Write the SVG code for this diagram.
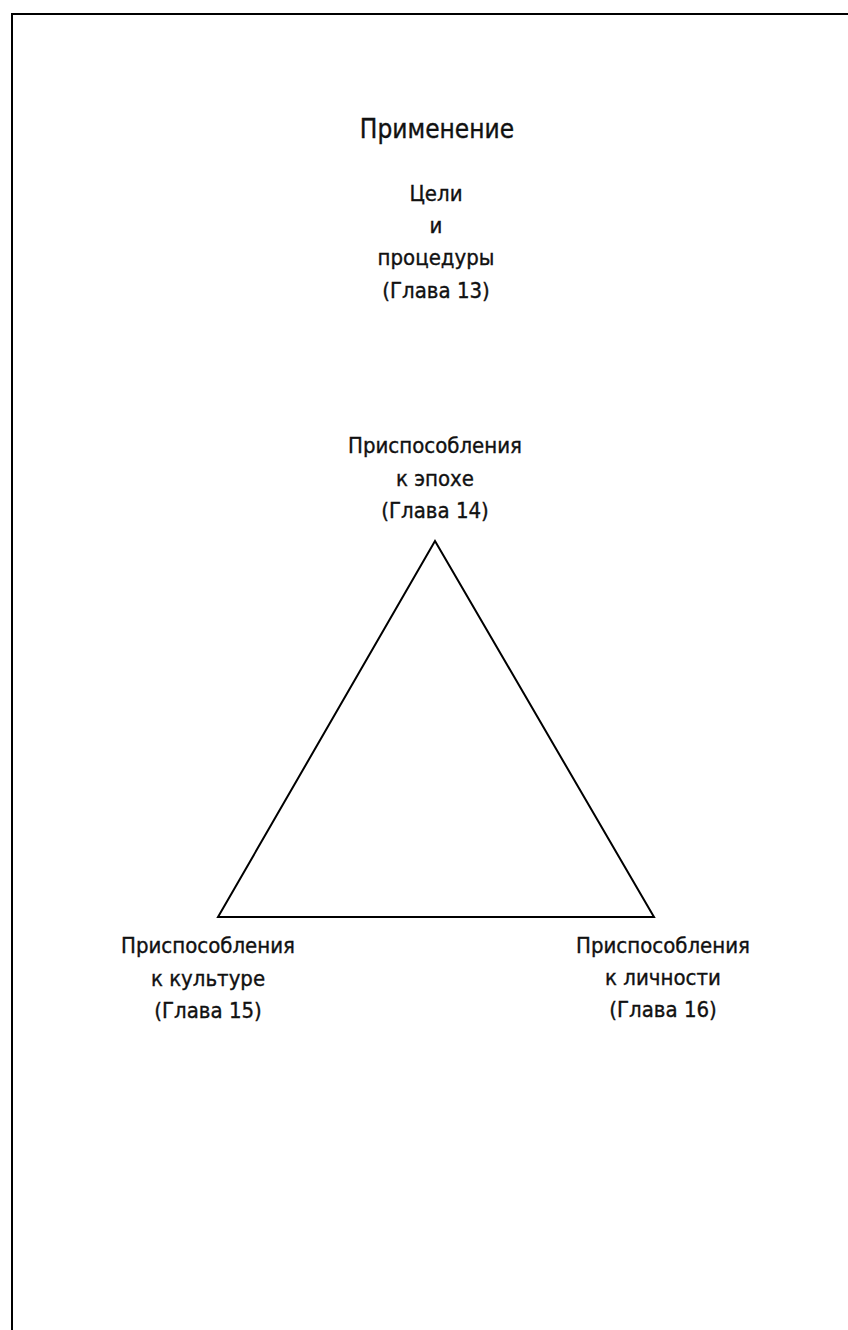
<svg xmlns="http://www.w3.org/2000/svg" width="848" height="1330" viewBox="0 0 848 1330">
<style>
text{font-family:"DejaVu Sans Condensed","DejaVu Sans",sans-serif;font-size:22px;fill:#111;stroke:#111;stroke-width:0.35;text-anchor:middle}
.title{font-size:26px}
.edge{fill:none;stroke:#000;stroke-width:2}
</style>
<rect width="848" height="1330" fill="#fff"/>
<path class="edge" d="M12,1330 V14 H848"/>
<g id="title"><text class="title" x="437" y="138">Применение</text></g>
<g id="goals">
<text x="436" y="201">Цели</text>
<text x="436" y="233">и</text>
<text x="436" y="265">процедуры</text>
<text x="436" y="298">(Глава 13)</text>
</g>
<g id="connectors">
<path class="edge" d="M435,541 L218,917 H654 Z" stroke-linejoin="miter"/>
</g>
<g id="epoch">
<text x="435" y="453">Приспособления</text>
<text x="435" y="486">к эпохе</text>
<text x="435" y="518">(Глава 14)</text>
</g>
<g id="culture">
<text x="208" y="953">Приспособления</text>
<text x="208" y="986">к культуре</text>
<text x="208" y="1018">(Глава 15)</text>
</g>
<g id="personality">
<text x="663" y="953">Приспособления</text>
<text x="663" y="985">к личности</text>
<text x="663" y="1017">(Глава 16)</text>
</g>
</svg>
